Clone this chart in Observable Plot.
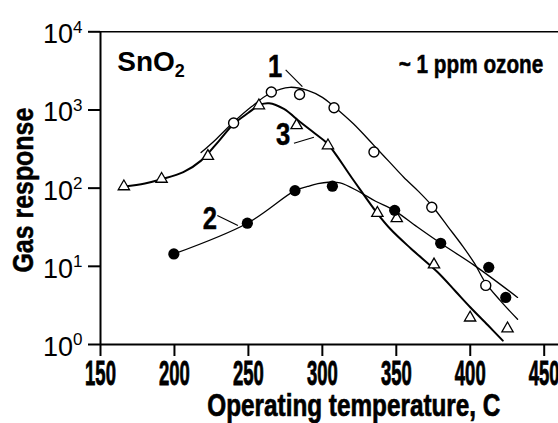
<!DOCTYPE html>
<html><head><meta charset="utf-8">
<script src="https://cdn.jsdelivr.net/npm/d3@7"></script>
<script src="https://cdn.jsdelivr.net/npm/@observablehq/plot@0.6"></script>
<style>body{margin:0;background:#fff} svg{display:block;background:#fff}</style>
</head><body><div id="chart"></div>
<script>
// ticks
const xTicks = [150, 200, 250, 300, 350, 400, 450];
const yTicks = [1, 10, 100, 1000, 10000];

// measured points: series 1 (open circles)
const s1T = [240, 265.5, 284.6, 307.9, 334.9, 374, 410.5];
const s1V = [680, 1700, 1580, 1070, 290, 57, 5.7];
// series 2 (filled circles)
const s2T = [199.6, 249.3, 281.5, 306.8, 348.9, 380, 412.5, 424];
const s2V = [14.4, 35.6, 93, 106, 52, 19.7, 9.7, 4.0];
// series 3 (open triangles)
const s3T = [165.8, 191.3, 222.6, 257.1, 282.6, 303.8, 337.2, 350.3, 375.5, 399.9, 425.2];
const s3V = [105, 131, 257, 1140, 634, 351, 48, 41, 10.5, 2.2, 1.6];

// fitted curves
const fit1T = [218, 228, 240, 252, 265, 278, 290, 300, 308, 321, 335, 345, 355, 365, 374, 385, 395, 403, 410, 420, 432];
const fit1V = [285, 420, 700, 1100, 1650, 1950, 1780, 1450, 1100, 665, 350, 220, 138, 91, 60, 32, 18, 10.8, 6.3, 3.7, 2.1];
const fit2T = [199.6, 249.3, 281.5, 290, 297, 304, 312, 324, 336, 348.5, 364, 380, 403, 432];
const fit2V = [14.4, 35.6, 93, 105, 114, 119, 117, 92, 68, 52, 32, 19.7, 10.2, 4.0];
const fit3T = [165.8, 180, 191.3, 206, 218, 230, 240, 250, 258, 264, 274, 285, 295, 303.5, 320, 337, 346, 360, 378, 390, 400, 412, 422];
const fit3V = [105, 115, 130, 160, 225, 400, 660, 920, 1170, 1220, 1030, 700, 500, 370, 135, 48, 30, 16.8, 8.4, 4.8, 3.0, 1.76, 1.12];

// curve labels and leader lines
const labelText = ["1", "2", "3"];
const labelT = [268, 223.9, 273.5];
const labelV = [3540, 40.5, 478];
const leadT1 = [275.2, 229, 280.8];
const leadV1 = [3260, 44.6, 375];
const leadT2 = [286.5, 242.9, 294.3];
const leadV2 = [1990, 33.3, 448];

const rows = (T, V) => T.map((t, i) => ({t, v: V[i]}));
const labels = labelText.map((s, i) => ({s, t: labelT[i], v: labelV[i]}));
const leads = leadT1.map((t, i) => ({t1: t, v1: leadV1[i], t2: leadT2[i], v2: leadV2[i]}));

const FONT = "Liberation Sans, Arial, sans-serif";

const svg = Plot.plot({
  width: 558,
  height: 423,
  marginLeft: 100,
  marginRight: 14.3,
  marginTop: 31.3,
  marginBottom: 79,
  style: {fontFamily: FONT, background: "#fff", color: "#000", overflow: "visible"},
  x: {domain: [150, 450]},
  y: {type: "log", domain: [1, 10000]},
  marks: [
    Plot.ruleY([10000], {insetRight: -15, strokeWidth: 1.5}),
    Plot.ruleY([1], {insetRight: -15, strokeWidth: 2}),
    Plot.ruleX([150], {strokeWidth: 2}),
    Plot.axisX(xTicks, {tickSize: 12, tickPadding: 3, strokeWidth: 2, label: null, tickFormat: d => String(d)}),
    Plot.axisY(yTicks, {tickSize: 12, tickPadding: 6, strokeWidth: 2, label: null, tickFormat: d => "10^" + Math.round(Math.log10(d))}),
    Plot.line(rows(fit1T, fit1V), {x: "t", y: "v", curve: "catmull-rom", stroke: "black", strokeWidth: 1.3}),
    Plot.line(rows(fit2T, fit2V), {x: "t", y: "v", curve: "catmull-rom", stroke: "black", strokeWidth: 1.3}),
    Plot.line(rows(fit3T, fit3V), {x: "t", y: "v", curve: "catmull-rom", stroke: "black", strokeWidth: 2}),
    Plot.link(leads, {x1: "t1", y1: "v1", x2: "t2", y2: "v2", stroke: "black", strokeWidth: 1.2}),
    Plot.dot(rows(s3T, s3V), {x: "t", y: "v", symbol: "triangle", r: 4.2, fill: "white", stroke: "black", strokeWidth: 1.3}),
    Plot.dot(rows(s1T, s1V), {x: "t", y: "v", r: 5, fill: "white", stroke: "black", strokeWidth: 1.4}),
    Plot.dot(rows(s2T, s2V), {x: "t", y: "v", r: 5.6, fill: "black", stroke: "none"}),
    Plot.text(labels, {x: "t", y: "v", text: "s", textAnchor: "middle", lineAnchor: "middle", fontSize: 32, fontWeight: "bold"}),
    Plot.text(["SnO_2"], {x: 161.3, y: 4050, text: d => d, textAnchor: "start", lineAnchor: "middle", fontSize: 28, fontWeight: "bold"}),
    Plot.text(["~ 1 ppm ozone"], {x: 351.6, y: 3800, text: d => d, textAnchor: "start", lineAnchor: "middle", fontSize: 25, fontWeight: "bold"}),
    Plot.text(["Gas response"], {frameAnchor: "left", text: d => d, rotate: -90, dx: -76.6, dy: 2, textAnchor: "middle", lineAnchor: "middle", fontSize: 29, fontWeight: "bold"}),
    Plot.text(["Operating temperature, C"], {frameAnchor: "bottom", text: d => d, dx: 31.5, dy: 71.3, textAnchor: "middle", lineAnchor: "bottom", fontSize: 32, fontWeight: "bold"})
  ]
});

function addTransform(el, extra) {
  let t = el.getAttribute("transform");
  if (!t) {
    const x = el.getAttribute("x") || 0, y = el.getAttribute("y") || 0;
    el.removeAttribute("x"); el.removeAttribute("y");
    t = `translate(${x},${y})`;
  }
  el.setAttribute("transform", t + " " + extra);
}
function heavy(el, w) {
  el.style.stroke = "black";
  el.style.strokeWidth = w + "px";
}

const xStr = xTicks.map(String);
svg.querySelectorAll("text").forEach(el => {
  const s = el.textContent;
  el.style.fontFamily = FONT;
  if (xStr.includes(s)) {
    el.style.fontSize = "24px"; el.style.fontWeight = "bold";
    addTransform(el, "scale(0.77,1.5)");
    heavy(el, 0.6);
  } else if (/^10\^\d$/.test(s)) {
    const e = s.split("^")[1];
    el.textContent = "10";
    el.style.fontSize = "27px"; el.style.fontWeight = "normal";
    const ts = document.createElementNS("http://www.w3.org/2000/svg", "tspan");
    ts.setAttribute("dy", "-10.5");
    ts.style.fontSize = "17px";
    ts.textContent = e;
    el.appendChild(ts);
    addTransform(el, "translate(0,2.8)");
  } else if (s === "SnO_2") {
    el.textContent = "SnO";
    const ts = document.createElementNS("http://www.w3.org/2000/svg", "tspan");
    ts.setAttribute("dy", "5.3");
    ts.style.fontSize = "18px";
    ts.textContent = "2";
    el.appendChild(ts);
  } else if (labelText.includes(s)) {
    addTransform(el, "scale(0.8,1)");
    heavy(el, 0.5);
  } else if (s === "~ 1 ppm ozone") {
    addTransform(el, "scale(0.83,1)");
    heavy(el, 0.5);
  } else if (s === "Gas response") {
    addTransform(el, "scale(0.86,1)");
    heavy(el, 0.5);
  } else if (s === "Operating temperature, C") {
    addTransform(el, "scale(0.76,1)");
    heavy(el, 0.7);
  }
});

document.getElementById("chart").appendChild(svg);
</script>
</body></html>
